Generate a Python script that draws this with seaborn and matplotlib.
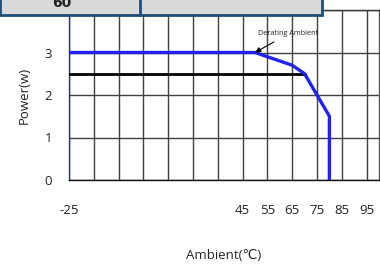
import matplotlib
matplotlib.use("Agg")
import matplotlib.pyplot as plt
import seaborn as sns
import pandas as pd
from matplotlib.patches import Rectangle
from matplotlib.lines import Line2D

# data
rated_x = [-25, 50, 65, 70, 80, 80]
rated_y = [3.0, 3.0, 2.7, 2.5, 1.5, 0.0]
ref_x = [-25, 70]
ref_y = [2.5, 2.5]
xtick_vals = [-25, 45, 55, 65, 75, 85, 95]
xtick_labels = ["-25", "45", "55", "65", "75", "85", "95"]
ytick_vals = [0, 1, 2, 3]
ytick_labels = ["0", "1", "2", "3"]
grid_x = list(range(-25, 96, 10))
grid_y = [0, 1, 2, 3, 4]

sns.set_style("white")
plt.rcParams["font.family"] = ["Open Sans", "DejaVu Sans"]

fig = plt.figure(figsize=(3.8, 2.64), dpi=100)

# clipped table box at top
W, H = 380, 264
fig.patches.append(Rectangle((0, 1 - 15 / H), 322 / W, 15 / H + 0.01,
                             transform=fig.transFigure, facecolor="#d9d9d9",
                             edgecolor="#1f4e79", linewidth=2, zorder=0))
fig.lines.append(Line2D([140 / W, 140 / W], [1 - 15 / H, 1], transform=fig.transFigure,
                        color="#1f4e79", linewidth=2, zorder=1))
fig.text(62 / W, 1 - 7 / H, "60", fontsize=10, fontweight="bold", ha="center",
         va="baseline", color="#222222", family=["DejaVu Sans"])

ax = fig.add_axes([69 / W, 1 - 180 / H, 310 / W, 170 / H])
ax.set_facecolor("none")

for gx in grid_x:
    ax.axvline(gx, color="#404040", linewidth=1, zorder=1)
for gy in grid_y:
    ax.axhline(gy, color="#404040", linewidth=1, zorder=1)

df_ref = pd.DataFrame({"x": ref_x, "y": ref_y})
df_rated = pd.DataFrame({"x": rated_x, "y": rated_y})
sns.lineplot(data=df_ref, x="x", y="y", sort=False, estimator=None, color="black",
             linewidth=2, ax=ax, zorder=3)
sns.lineplot(data=df_rated, x="x", y="y", sort=False, estimator=None, color="#2222ee",
             linewidth=2.4, ax=ax, zorder=4)

ax.annotate("Derating Ambient", xy=(50, 3.0), xytext=(63.5, 3.44),
            fontsize=5.2, ha="center", va="center", color="#222222",
            arrowprops=dict(arrowstyle="-|>", color="black", lw=0.8,
                            mutation_scale=8, shrinkA=2, shrinkB=0),
            zorder=5)

ax.set_xlim(-25, 100)
ax.set_ylim(0, 4)
ax.set_xticks(xtick_vals)
ax.set_xticklabels(xtick_labels)
ax.set_yticks(ytick_vals)
ax.set_yticklabels(ytick_labels)
ax.tick_params(axis="x", length=0, pad=17, labelsize=9.5, colors="#222222")
ax.tick_params(axis="y", length=0, pad=12, labelsize=9.5, colors="#222222")
ax.set_xlabel("Ambient(℃)", fontsize=9.5, labelpad=23, color="#222222")
ax.set_ylabel("Power(w)", fontsize=9.5, labelpad=10, color="#222222")

for side, col in [("left", "#2a3f5f"), ("bottom", "#111111"), ("top", "#333333"), ("right", "#555555")]:
    ax.spines[side].set_visible(True)
    ax.spines[side].set_color(col)
    ax.spines[side].set_linewidth(1)

fig.savefig("out.png", dpi=100)
